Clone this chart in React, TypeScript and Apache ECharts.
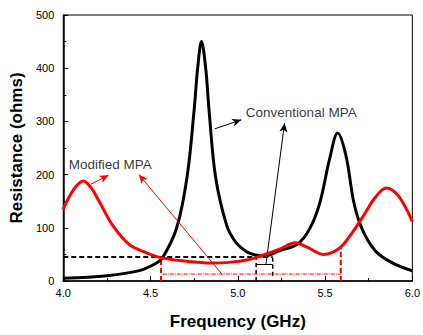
import React, { useEffect, useRef } from "react";
import * as echarts from "echarts";

// Conventional MPA (black) [GHz, ohms]
const conventionalFreq = [4.0, 4.25, 4.43, 4.53, 4.57, 4.65, 4.71, 4.75, 4.77, 4.792, 4.816, 4.835, 4.872, 4.937, 4.99, 5.05, 5.1, 5.15, 5.24, 5.34, 5.41, 5.47, 5.525, 5.572, 5.62, 5.665, 5.713, 5.787, 5.88, 6.0];
const conventionalRes = [5, 10, 19, 33, 44, 100, 197, 322, 400, 450, 400, 322, 197, 104, 72, 55, 49, 47, 57, 69, 97, 147, 228, 278, 235, 147, 97, 57, 35, 19];

// Modified MPA (red)
const modifiedFreq = [4.0, 4.06, 4.116, 4.16, 4.21, 4.284, 4.377, 4.47, 4.56, 4.685, 4.85, 4.95, 5.06, 5.13, 5.24, 5.33, 5.4, 5.49, 5.58, 5.656, 5.713, 5.787, 5.85, 5.92, 6.0];
const modifiedRes = [135, 172, 188, 175, 147, 104, 69, 54, 44, 38, 34, 35, 40, 47, 60, 72, 63, 50, 61, 91, 119, 157, 175, 160, 112];

// Annotation reference lines
const blackDashH = [[4.0, 45], [5.2, 45]];
const blackDashV1 = [[5.105, 0], [5.105, 45]];
const blackDashV2 = [[5.2, 10], [5.2, 45]];
const blackBox = [[5.105, 31], [5.2, 31]];
const redDashV1 = [[4.56, 0], [4.56, 44]];
const redDashV2 = [[5.59, 0], [5.59, 62]];
const redDashDotH = [[4.57, 13], [5.59, 13]];

// Arrows [from, to]
const blackArrows = [
  [[4.868, 286], [5.02, 303]],
  [[5.161, 31], [5.268, 297]],
];
const redArrows = [
  [[4.159, 182], [4.26, 199]],
  [[4.909, 13], [4.433, 200]],
];

// Text labels
const labelConventional = { text: "Conventional MPA", at: [5.046, 316] };
const labelModified = { text: "Modified MPA", at: [4.032, 219] };

const xTicks = { min: 4, max: 6, interval: 0.5 };
const yTicks = { min: 0, max: 500, interval: 100 };

const zip = (xs: number[], ys: number[]) => xs.map((x, i) => [x, ys[i]]);

function seg(data: number[][], color: string, width: number, type: any) {
  return {
    type: "line",
    data,
    symbol: "none",
    silent: true,
    lineStyle: { color, width, type },
    z: 3,
  };
}

function arrows(list: number[][][], color: string) {
  return {
    type: "line",
    data: [],
    symbol: "none",
    silent: true,
    markLine: {
      silent: true,
      symbol: ["none", "arrow"],
      symbolSize: [6, 9],
      label: { show: false },
      lineStyle: { color, width: 1, type: "solid" },
      data: list.map((a) => [{ coord: a[0] }, { coord: a[1] }]),
    },
  };
}

function textLabel(l: { text: string; at: number[] }) {
  return {
    type: "scatter",
    data: [l.at],
    symbolSize: 0,
    silent: true,
    label: {
      show: true,
      position: "right",
      distance: 0,
      formatter: l.text,
      fontFamily: "Liberation Sans, Arial, sans-serif",
      fontSize: 13.5,
      color: "#000",
    },
  };
}

export default function App() {
  const ref = useRef<HTMLDivElement>(null);
  useEffect(() => {
    if (!ref.current) return;
    const chart = echarts.init(ref.current, undefined, { renderer: "svg" });
    const axisFont = { fontFamily: "Liberation Sans, Arial, sans-serif", fontSize: 11, color: "#000" };
    chart.setOption({
      animation: false,
      backgroundColor: "#fff",
      grid: { left: 61, right: 5, top: 15, bottom: 53, show: true, borderColor: "#000", borderWidth: 1 },
      xAxis: {
        type: "value",
        min: xTicks.min,
        max: xTicks.max,
        interval: xTicks.interval,
        name: "Frequency (GHz)",
        nameLocation: "middle",
        nameGap: 32,
        nameTextStyle: { fontFamily: "Liberation Sans, Arial, sans-serif", fontSize: 17, fontWeight: "bold", color: "#000" },
        axisLine: { lineStyle: { color: "#000", width: 1.5 } },
        axisTick: { inside: true, length: 5, lineStyle: { color: "#000" } },
        minorTick: { show: true, splitNumber: 2, length: 3, lineStyle: { color: "#000" } },
        axisLabel: { ...axisFont, margin: 6, formatter: (v: number) => v.toFixed(1) },
        splitLine: { show: false },
      },
      yAxis: {
        type: "value",
        min: yTicks.min,
        max: yTicks.max,
        interval: yTicks.interval,
        name: "Resistance (ohms)",
        nameLocation: "middle",
        nameGap: 35,
        nameTextStyle: { fontFamily: "Liberation Sans, Arial, sans-serif", fontSize: 17, fontWeight: "bold", color: "#000" },
        axisLine: { lineStyle: { color: "#000", width: 1.5 } },
        axisTick: { inside: true, length: 5, lineStyle: { color: "#000" } },
        minorTick: { show: true, splitNumber: 2, length: 3, lineStyle: { color: "#000" } },
        axisLabel: { ...axisFont, margin: 9 },
        splitLine: { show: false },
      },
      series: [
        seg(blackDashH, "#000", 2, [5, 3]),
        seg(blackDashV1, "#000", 1.5, [4, 3]),
        seg(blackDashV2, "#000", 1.5, [4, 3]),
        seg(blackBox, "#000", 1, "solid"),
        seg(redDashV1, "#ff0000", 2, [5, 3]),
        seg(redDashV2, "#ff0000", 2, [5, 3]),
        seg(redDashDotH, "#ff0000", 1, [4, 1, 1, 1]),
        {
          type: "line",
          name: "Conventional MPA",
          data: zip(conventionalFreq, conventionalRes),
          smooth: 0.35,
          symbol: "none",
          lineStyle: { color: "#000", width: 3 },
          z: 4,
        },
        {
          type: "line",
          name: "Modified MPA",
          data: zip(modifiedFreq, modifiedRes),
          smooth: 0.35,
          symbol: "none",
          lineStyle: { color: "#ff0000", width: 3 },
          z: 5,
        },
        arrows(blackArrows, "#000"),
        arrows(redArrows, "#ff0000"),
        textLabel(labelConventional),
        textLabel(labelModified),
      ],
    });
    return () => chart.dispose();
  }, []);
  return <div ref={ref} style={{ position: "fixed", left: 0, top: 0, width: 423, height: 335 }} />;
}
